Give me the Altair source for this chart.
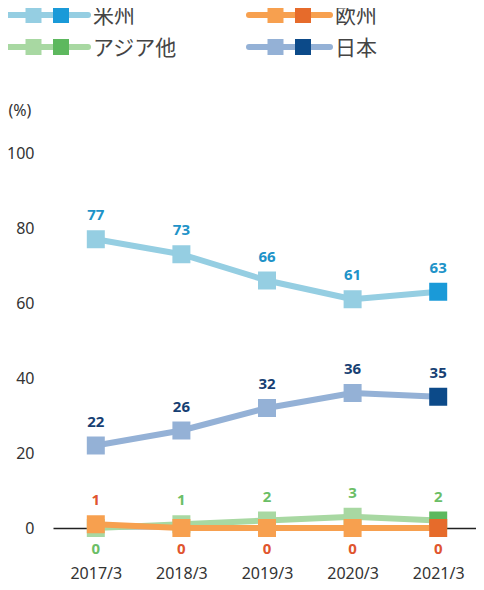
import altair as alt
import pandas as pd

# ---- data ----
years = ["2017/3", "2018/3", "2019/3", "2020/3", "2021/3"]
americas = [77, 73, 66, 61, 63]
japan = [22, 26, 32, 36, 35]
asia = [0, 1, 2, 3, 2]
europe = [1, 0, 0, 0, 0]

draw_order = ["米州", "日本", "アジア他", "欧州"]
legend_order = ["米州", "欧州", "アジア他", "日本"]
values = {"米州": americas, "日本": japan, "アジア他": asia, "欧州": europe}

# ---- styles ----
light = {"米州": "#95CEE2", "日本": "#94B1D6", "アジア他": "#A8D8A2", "欧州": "#F7A04F"}
dark = {"米州": "#1A9AD8", "日本": "#0C4A89", "アジア他": "#5DB85E", "欧州": "#E66B2B"}
labcol = {"米州": "#2092C8", "日本": "#173F73", "アジア他": "#6BBE66", "欧州": "#E0552E"}
NUM_FONT = "Noto Sans"
JP_FONT = "Noto Sans CJK JP"

# pairs that overlap near zero: smaller one gets its label below
pair = {"アジア他": "欧州", "欧州": "アジア他"}

x_enc = alt.X(
    "year:O",
    scale=alt.Scale(type="point", padding=0.5, domain=years),
    axis=alt.Axis(title=None, ticks=False, grid=False, domain=True,
                  domainColor="#222222", domainWidth=1.5, labelAngle=0,
                  labelFontSize=16, labelFont=NUM_FONT, labelColor="#333333",
                  labelPadding=37, zindex=0),
)
y_enc = alt.Y(
    "value:Q",
    scale=alt.Scale(domain=[0, 100]),
    axis=alt.Axis(values=[0, 20, 40, 60, 80, 100], ticks=False, domain=False,
                  grid=False, labelFontSize=16, labelFont=NUM_FONT,
                  labelColor="#333333", labelPadding=19,
                  title="(%)", titleAngle=0, titleAlign="left",
                  titleBaseline="middle", titleX=-45, titleY=-43,
                  titleFontSize=16, titleFont=NUM_FONT,
                  titleFontWeight="normal", titleColor="#333333", zindex=0),
)

main_layers = []
for s in draw_order:
    vals = values[s]
    other = values.get(pair.get(s, ""), None)
    below = [bool(other is not None and v < o) for v, o in zip(vals, other)] if other else [False] * len(vals)
    df = pd.DataFrame({"year": years, "value": vals, "below": below})
    base = alt.Chart(df).encode(x=x_enc, y=y_enc)
    main_layers.append(base.mark_line(color=light[s], strokeWidth=6, strokeJoin="round"))
    main_layers.append(
        base.mark_square(size=324, opacity=1).encode(
            color=alt.condition(alt.datum.year == years[-1], alt.value(dark[s]), alt.value(light[s]))
        )
    )
    main_layers.append(
        base.transform_filter("!datum.below").mark_text(
            dy=-24, fontSize=15, fontWeight="bold", font=NUM_FONT, color=labcol[s]
        ).encode(text="value:Q")
    )
    main_layers.append(
        base.transform_filter("datum.below").mark_text(
            dy=21, fontSize=15, fontWeight="bold", font=NUM_FONT, color=labcol[s]
        ).encode(text="value:Q")
    )

main = alt.layer(*main_layers)

# ---- legend (grid of 2 columns x 2 rows) ----
leg_df = pd.DataFrame({
    "name": legend_order,
    "col": [i % 2 for i in range(len(legend_order))],
    "row": [i // 2 for i in range(len(legend_order))],
})
lx = alt.X("col:Q", scale=alt.Scale(domain=[0, 1], range=[0, 242]), axis=None)
ly = alt.Y("row:Q", scale=alt.Scale(domain=[0, 1], range=[-138, -106]), axis=None)
light_scale = alt.Scale(domain=legend_order, range=[light[n] for n in legend_order])
dark_scale = alt.Scale(domain=legend_order, range=[dark[n] for n in legend_order])

lbase = alt.Chart(leg_df).encode(x=lx, y=ly)
leg_rule = lbase.mark_rule(strokeWidth=6, strokeCap="round", xOffset=-46, x2Offset=35).encode(
    x2=alt.X2("col"), color=alt.Color("name:N", scale=light_scale, legend=None)
)
leg_light = lbase.mark_square(size=256, opacity=1, xOffset=-19.5).encode(
    color=alt.Color("name:N", scale=light_scale, legend=None)
)
leg_dark = lbase.mark_square(size=256, opacity=1, xOffset=8).encode(
    color=alt.Color("name:N", scale=dark_scale, legend=None)
)
leg_text = lbase.mark_text(align="left", baseline="middle", dx=40, dy=2, fontSize=21,
                           font=JP_FONT, color="#444444").encode(text="name:N")
legend = alt.layer(leg_rule, leg_light, leg_dark, leg_text).resolve_scale(color="independent")

chart = (
    alt.layer(main, legend)
    .resolve_scale(x="independent", y="independent")
    .properties(
        width=428, height=375,
        padding={"left": 45, "top": 145, "right": -5, "bottom": 54},
        autosize=alt.AutoSizeParams(type="none"),
        background="white",
    )
    .configure_view(stroke=None)
)

chart.save("out.html", embed_options={"renderer": "svg", "actions": False})
